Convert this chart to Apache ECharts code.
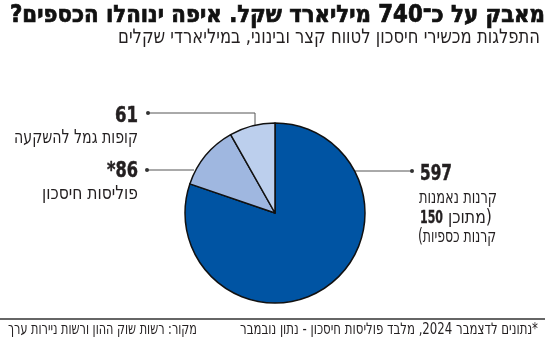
<!DOCTYPE html>
<html>
<head>
<meta charset="utf-8">
<script src="https://cdn.jsdelivr.net/npm/echarts@6/dist/echarts.min.js"></script>
<style>
html,body{margin:0;padding:0;background:#fff;}
#chart{width:550px;height:344px;}
</style>
</head>
<body>
<div id="chart" dir="rtl"></div>
<script>
// ---- data ----
const categories = ['קרנות נאמנות', 'פוליסות חיסכון', 'קופות גמל להשקעה'];
const values = [597, 86, 61];
const valueMarks = ['597', '86*', '61'];
const moneyMarketFunds = 150;
const moneyMarketLabel = ['(מתוכן', 'קרנות כספיות)'];
const titleText = 'מאבק על כ־740 מיליארד שקל. איפה ינוהלו הכספים?';
const subtitleText = 'התפלגות מכשירי חיסכון לטווח קצר ובינוני, במיליארדי שקלים';
const noteText = '*נתונים לדצמבר 2024, מלבד פוליסות חיסכון - נתון נובמבר';
const sourceText = 'מקור: רשות שוק ההון ורשות ניירות ערך';

// ---- style ----
const colors = ['#0054a3', '#9fb7e0', '#bccfed'];
const FONT = '"DejaVu Sans Condensed", "DejaVu Sans", sans-serif';
const INK = '#231f20';

const measureCtx = document.createElement('canvas').getContext('2d');
function fitText(text, font, x, y, width, align, color, heavy) {
  measureCtx.font = font;
  const w = measureCtx.measureText(text).width;
  const style = {text: text, font: font, fill: color || INK, textAlign: align, textVerticalAlign: 'middle'};
  if (heavy) { style.stroke = color || INK; style.lineWidth = heavy; }
  return {type: 'text', x: x, y: y, scaleX: width / w, silent: true, style: style};
}
function leader(points) {
  return [
    {type: 'polyline', silent: true, shape: {points: points}, style: {stroke: '#555', lineWidth: 1, fill: null}},
    {type: 'circle', silent: true, shape: {cx: points[points.length - 1][0], cy: points[points.length - 1][1], r: 2}, style: {fill: '#333'}}
  ];
}

const NUM = 'bold 22px ' + FONT;
const LBL = '19px ' + FONT;

const graphics = [
  fitText(titleText, 'bold 24px ' + FONT, 545, 16, 535, 'right', '#111', 0.7),
  fitText(subtitleText, '20px ' + FONT, 540, 38, 422, 'right'),
  {type: 'line', silent: true, shape: {x1: 0, y1: 319, x2: 545, y2: 319}, style: {stroke: '#333', lineWidth: 1.5}},
  fitText(noteText, '16px ' + FONT, 538, 330, 298, 'right'),
  fitText(sourceText, '16px ' + FONT, 8, 330, 189, 'left'),
  // 597 block
  fitText(valueMarks[0], NUM, 420, 174, 32, 'left', INK, 0.5),
  fitText(categories[0], LBL, 419, 198.5, 78, 'left'),
  fitText(String(moneyMarketFunds), 'bold 18px ' + FONT, 420, 218.5, 23, 'left', INK, 0.3),
  fitText(moneyMarketLabel[0], LBL, 448, 218.5, 44, 'left'),
  fitText(moneyMarketLabel[1], LBL, 418, 237.5, 78, 'left'),
  // 86 block
  fitText(valueMarks[1], NUM, 138, 171, 31, 'right', INK, 0.5),
  fitText(categories[1], LBL, 138, 194, 96, 'right'),
  // 61 block
  fitText(valueMarks[2], NUM, 138, 116, 23, 'right', INK, 0.5),
  fitText(categories[2], LBL, 138, 138, 124, 'right')
].concat(
  leader([[355, 171], [412, 171]]),
  leader([[194, 170], [147, 170]]),
  leader([[255, 125], [255, 113], [148, 113]])
);

const chart = echarts.init(document.getElementById('chart'), null, {renderer: 'canvas'});
chart.setOption({
  animation: false,
  textStyle: {fontFamily: FONT},
  series: [{
    type: 'pie',
    center: [275, 213],
    radius: 90,
    startAngle: 90,
    clockwise: true,
    silent: true,
    data: values.map((v, i) => ({value: v, name: categories[i], itemStyle: {color: colors[i]}})),
    itemStyle: {borderColor: '#111', borderWidth: 1.5},
    label: {show: false},
    labelLine: {show: false}
  }],
  graphic: graphics
});
</script>
</body>
</html>
